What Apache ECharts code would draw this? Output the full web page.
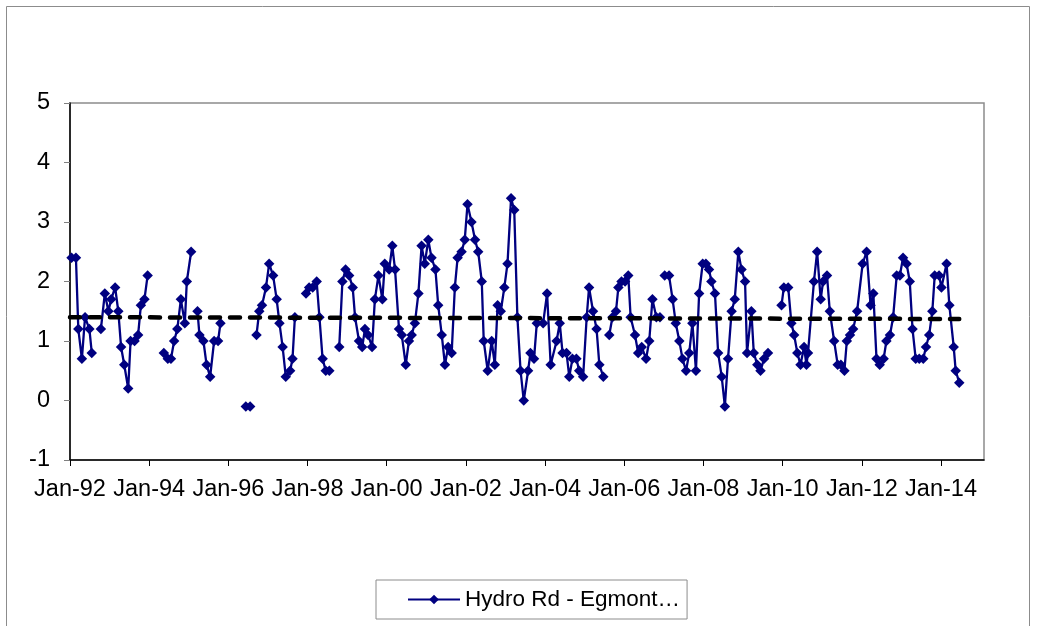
<!DOCTYPE html>
<html>
<head>
<meta charset="utf-8">
<script src="https://cdn.jsdelivr.net/npm/echarts@6/dist/echarts.min.js"></script>
<style>
html,body{margin:0;padding:0;background:#fff;}
#chart{width:1037px;height:626px;}
</style>
</head>
<body>
<div id="chart"></div>
<script>
// Decimal-year sample dates (null value = gap in record)
const dates = [
1992.04,1992.15,1992.21,1992.30,1992.38,1992.49,1992.55,1992.66,
1992.78,1992.88,1992.97,1993.04,1993.14,1993.22,1993.29,1993.37,1993.47,1993.53,1993.63,1993.72,1993.79,1993.88,1993.96,1994.15,
1994.37,1994.47,1994.55,1994.63,1994.71,1994.80,1994.90,1994.95,1995.06,1995.14,
1995.22,1995.27,1995.37,1995.45,1995.54,1995.64,1995.74,1995.80,1996.1,
1996.44,1996.55,1996.63,
1996.71,1996.78,1996.85,1996.95,1997.03,1997.13,1997.22,1997.29,1997.37,1997.45,1997.56,1997.62,1997.68,1997.82,
1997.96,1998.04,1998.13,1998.23,1998.30,1998.38,1998.46,1998.55,1998.68,
1998.80,1998.88,1998.96,1999.05,1999.14,1999.20,1999.30,1999.38,1999.45,1999.53,1999.63,1999.70,1999.79,1999.89,1999.95,
2000.06,2000.14,2000.21,2000.31,2000.38,2000.48,2000.56,2000.63,2000.71,2000.80,2000.88,2000.96,
2001.05,2001.13,2001.23,2001.30,2001.39,2001.47,2001.55,2001.64,2001.72,2001.79,2001.89,2001.97,
2002.04,2002.14,2002.23,2002.31,2002.40,2002.45,2002.55,2002.65,2002.73,2002.80,2002.88,2002.97,
2003.05,2003.14,2003.22,2003.30,2003.38,2003.46,2003.57,2003.63,2003.72,2003.79,2003.95,
2004.05,2004.14,2004.29,2004.37,2004.44,2004.54,2004.61,2004.69,2004.79,2004.86,2004.96,
2005.05,2005.11,2005.21,2005.30,2005.37,2005.47,2005.55,
2005.62,2005.70,2005.79,2005.85,2005.93,2006.02,2006.10,2006.16,2006.27,2006.35,2006.44,2006.55,2006.63,2006.71,2006.81,2006.90,2006.96,
2007.02,2007.13,2007.22,2007.30,2007.39,2007.47,2007.56,2007.64,2007.72,2007.81,2007.89,2007.98,
2008.06,2008.14,2008.20,2008.29,2008.37,2008.46,2008.54,2008.62,2008.71,2008.79,2008.88,2008.96,
2009.05,2009.10,2009.21,2009.27,2009.36,2009.44,2009.53,2009.63,2009.80,
2009.97,2010.03,2010.14,2010.22,2010.29,2010.37,2010.45,2010.54,2010.60,2010.64,2010.79,2010.87,2010.96,
2011.02,2011.12,2011.19,2011.30,2011.39,2011.47,2011.56,2011.62,2011.70,2011.78,2011.88,
2012.02,2012.12,2012.22,2012.29,2012.37,2012.45,2012.55,2012.62,2012.71,2012.79,2012.88,2012.96,
2013.04,2013.13,2013.21,2013.28,2013.36,2013.45,2013.55,2013.62,2013.70,2013.78,2013.84,2013.95,
2014.01,2014.14,2014.21,2014.32,2014.37,2014.46
];
const values = [
2.4,2.4,1.2,0.7,1.4,1.2,0.8,null,
1.2,1.8,1.5,1.7,1.9,1.5,0.9,0.6,0.2,1.0,1.0,1.1,1.6,1.7,2.1,null,
0.8,0.7,0.7,1.0,1.2,1.7,1.3,2.0,2.5,null,
1.5,1.1,1.0,0.6,0.4,1.0,1.0,1.3,null,
-0.1,-0.1,null,
1.1,1.5,1.6,1.9,2.3,2.1,1.7,1.3,0.9,0.4,0.5,0.7,1.4,null,
1.8,1.9,1.9,2.0,1.4,0.7,0.5,0.5,null,
0.9,2.0,2.2,2.1,1.9,1.4,1.0,0.9,1.2,1.1,0.9,1.7,2.1,1.7,2.3,
2.2,2.6,2.2,1.2,1.1,0.6,1.0,1.1,1.3,1.8,2.6,2.3,
2.7,2.4,2.2,1.6,1.1,0.6,0.9,0.8,1.9,2.4,2.5,2.7,
3.3,3.0,2.7,2.5,2.0,1.0,0.5,1.0,0.6,1.6,1.5,1.9,
2.3,3.4,3.2,1.4,0.5,0.0,0.5,0.8,0.7,1.3,1.3,
1.8,0.6,1.0,1.3,0.8,0.8,0.4,0.7,0.7,0.5,0.4,
1.4,1.9,1.5,1.2,0.6,0.4,null,
1.1,1.4,1.5,1.9,2.0,2.0,2.1,1.4,1.1,0.8,0.9,0.7,1.0,1.7,1.4,1.4,null,
2.1,2.1,1.7,1.3,1.0,0.7,0.5,0.8,1.3,0.5,1.8,2.3,
2.3,2.2,2.0,1.8,0.8,0.4,-0.1,0.7,1.5,1.7,2.5,2.2,
2.0,0.8,1.5,0.8,0.6,0.5,0.7,0.8,null,
1.6,1.9,1.9,1.3,1.1,0.8,0.6,0.9,0.6,0.8,2.0,2.5,1.7,
2.0,2.1,1.5,1.0,0.6,0.6,0.5,1.0,1.1,1.2,1.5,
2.3,2.5,1.6,1.8,0.7,0.6,0.7,1.0,1.1,1.4,2.1,2.1,
2.4,2.3,2.0,1.2,0.7,0.7,0.7,0.9,1.1,1.5,2.1,2.1,
1.9,2.3,1.6,0.9,0.5,0.3
];
const trendDates = [1992.0, 2014.46];
const trendValues = [1.40, 1.37];
const xTickYears = [1992,1994,1996,1998,2000,2002,2004,2006,2008,2010,2012,2014];
const seriesName = 'Hydro Rd - Egmont\u2026';

const FONT = '"Liberation Sans", Arial, sans-serif';
const chart = echarts.init(document.getElementById('chart'), null, {renderer: 'canvas'});
const mainData = dates.map((d, i) => [d, values[i] === null ? '-' : values[i]]);
const trendData = trendDates.map((d, i) => [d, trendValues[i]]);

chart.setOption({
  animation: false,
  backgroundColor: '#fff',
  graphic: [{
    type: 'rect', silent: true, z: -1,
    shape: {x: 6.5, y: 6.5, width: 1023, height: 640},
    style: {fill: 'none', stroke: '#8c8c8c', lineWidth: 1}
  }],
  grid: {left: 70, right: 53, top: 103, bottom: 166, show: true, borderColor: '#8c8c8c', borderWidth: 1.5, backgroundColor: 'transparent'},
  legend: {
    data: [seriesName],
    left: 376, top: 580,
    padding: [8, 7, 8, 31],
    borderColor: '#8c8c8c', borderWidth: 1,
    itemWidth: 52, itemHeight: 12, itemGap: 6,
    textStyle: {fontFamily: FONT, fontSize: 22.5, color: '#000'}
  },
  xAxis: {
    type: 'value', min: 1992, max: 2015.085,
    axisLine: {show: true, onZero: false, lineStyle: {color: '#000', width: 1.5}},
    axisTick: {show: true, length: 6, customValues: xTickYears, lineStyle: {color: '#000'}},
    axisLabel: {customValues: xTickYears, margin: 18, fontFamily: FONT, fontSize: 23.5, color: '#000',
      formatter: v => 'Jan-' + String(Math.round(v)).slice(2)},
    splitLine: {show: false}
  },
  yAxis: {
    type: 'value', min: -1, max: 5, interval: 1,
    axisLine: {show: true, onZero: false, lineStyle: {color: '#000', width: 1.5}},
    axisTick: {show: true, length: 6, lineStyle: {color: '#808080'}},
    axisLabel: {margin: 20, fontFamily: FONT, fontSize: 23.5, color: '#000'},
    splitLine: {show: false}
  },
  series: [{
    name: seriesName, type: 'line', data: mainData,
    connectNulls: false,
    symbol: 'diamond', symbolSize: 10.5,
    lineStyle: {color: '#000080', width: 2.3},
    itemStyle: {color: '#000080'},
    z: 3
  }, {
    name: 'trend', type: 'line', data: trendData,
    symbol: 'none',
    lineStyle: {color: '#000', width: 4.5, type: [10, 10], cap: 'round'},
    z: 4
  }]
});
</script>
</body>
</html>
